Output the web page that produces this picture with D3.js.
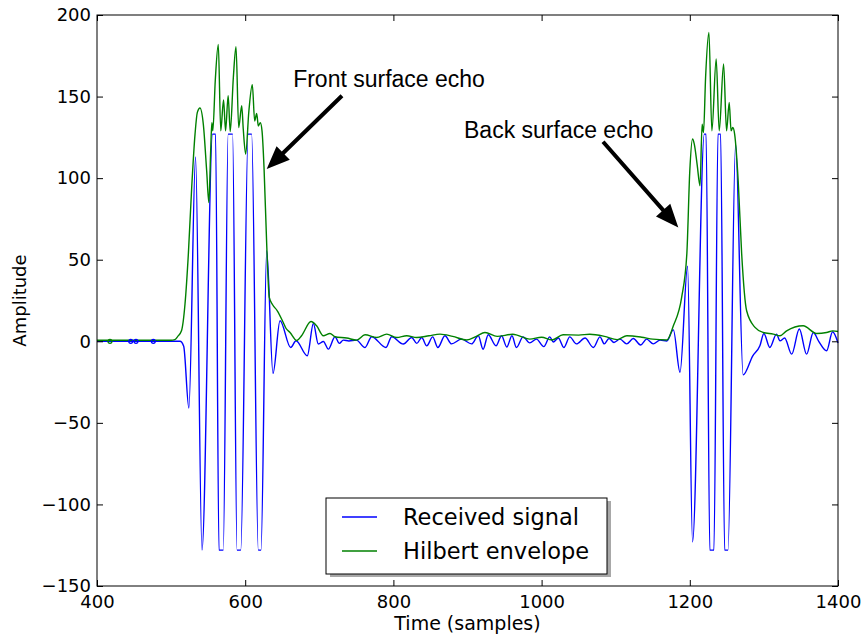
<!DOCTYPE html>
<html>
<head>
<meta charset="utf-8">
<script src="https://cdn.jsdelivr.net/npm/d3@7"></script>
<style>
body { margin: 0; background: #fff; }
.tick text { font-family: "DejaVu Sans"; font-size: 18px; fill: #000; }
.tick line { stroke: #000; stroke-width: 1; }
</style>
</head>
<body>
<svg id="chart" width="865" height="640"></svg>
<script>
// 샘플 위치와 진폭
var sigT = [400,420,440,460,480,500,512,517,524,533,541.7,556,560,564.6,570.4,577,583,589,594,604,608.7,617.7,621.3,629,637.5,647,
  661.4,668.6,683.8,692,698.7,705.5,712.2,721.2,727,732.4,740,750,761.7,770.7,790,797.7,813.4,824.7,831.5,838.2,845,853,860,869.6,
  878.5,891.9,905.5,914.6,921,928,938.5,946,953,960,966,975,984,993,1003,1011,1015.8,1022.6,1030,1038,1047,1058.6,1069.8,1078.8,
  1084.6,1091,1097.7,1105.8,1114.8,1123.8,1133.6,1141.7,1150.7,1159.8,1169,1177.8,1186.8,1197,1203.7,1219.6,1222,1227,1232.6,
  1238,1241.6,1247,1251.5,1261.8,1272,1285,1294.6,1300,1308,1317,1321.7,1328,1337.5,1347.8,1357.6,1366.7,1374,1384.6,1392.7,1400];
var sigA = [0,0,0,0,0,0,0,-3,-41,113,-128,127,127,-128,-128,127,127,-128,-128,127,127,-128,-128,55.5,-19.7,12.6,
  -3.8,0.3,-8.9,10.9,-1.7,-0.1,-4.8,2.8,-1.3,0.7,0.2,0.7,-3.8,2.8,-3.8,2.8,-1.7,2.3,-1.3,2.3,-2.8,2.7,-3.8,3.4,
  -1.6,1.3,-1.6,3.4,-4.9,4,-2.8,3.4,-3.5,3.4,-3.8,2.7,-1,1.3,-3.3,2.7,-0.4,2,-3.8,2.7,-1.6,2,-3.8,2.7,
  -1.6,1.7,-0.7,1.3,-1.6,1.7,-2.3,1.3,-1.6,0.7,0.2,7,-19,46,-123,127,127,-128,-128,
  127,127,-128,-128,121,-20.6,-8.9,-2.8,4.8,-3.8,4.4,0.3,2,-7.9,7.5,-7.9,5.4,0,-5.8,5.8,-1];

var envT = [400,450,500,505,509,514,518.8,523.3,527.8,532.3,535.4,539,543.5,548,551,553.4,555,556.3,559.6,563.7,567,570.8,573.5,
  577,579.8,584,587.6,591.2,595.3,597.4,600.6,605,609.6,612.8,615.5,617.7,620.4,622.7,625.4,629,632.5,637,643.3,651.4,655,660.5,
  669.5,676,688.8,696.4,705.4,714.4,721,737,750.4,761.7,777.4,791,804.5,818,831.5,848,863,880,899,912,923.6,940,961,984,1000,
  1014,1029,1050,1065,1085,1102,1115,1135,1150,1169,1177.8,1189,1196,1200,1203.7,1206,1210,1213.8,1216.6,1218.5,1221.3,1225.8,
  1229.8,1235.6,1239.7,1245.6,1249.6,1253.2,1255.7,1258,1260.5,1265.3,1270,1276.7,1288,1299,1312.7,1321.7,1330.7,1353,1371,
  1384.6,1393,1400];
var envA = [0.6,0.6,0.6,1,3,6.4,23,53.6,94.3,127,140.3,143,133,104.5,85,116.8,134,129,159.7,182,129,148,129,
  150.5,128.5,161.7,180.6,131,144.4,130,114.8,141.3,157.3,135,139.7,132,134,129,106.6,59.6,26.9,22.4,18.7,11.5,8,5.4,
  0.5,3.4,12.1,9.5,3.4,4.8,2.8,2,0.7,4,2.3,4.4,2.3,3.4,2.3,3.4,4.4,3,0.8,3,5.4,3,4.3,1.3,2.5,
  0.8,4,3.8,4.3,3,1,3.4,2.5,1.3,0.8,9.5,26.9,53.6,104.5,124,121,108,95.3,133,128,161.7,189.3,
  129,173,129,170,129,146.4,129,131,127,98.4,53.6,18.7,8.5,5.4,4.4,3.4,6.4,9.5,4.8,
  5.4,6.4,6];

var markT = [417.5, 445.5, 452.6, 476];

var xTicks = [400, 600, 800, 1000, 1200, 1400];
var yTicks = [-150, -100, -50, 0, 50, 100, 150, 200];

var seriesNames = ["Received signal", "Hilbert envelope"];
var notes = [
  {text: "Front surface echo", tx: 664.7, ty: 155.6, fromX: 730.6, fromY: 150.5, toX: 629, toY: 105.6},
  {text: "Back surface echo", tx: 895.3, ty: 124.7, fromX: 1082.9, fromY: 122.3, toX: 1184.5, toY: 69.8}
];

window.addEventListener("load", function(){
var mLeft = 97, mRight = 838, mTop = 15, mBottom = 586;
var svg = d3.select("#chart");
svg.append("rect").attr("width", 865).attr("height", 640).attr("fill", "#fff");

var x = d3.scaleLinear().domain([400, 1400]).range([mLeft, mRight]);
var y = d3.scaleLinear().domain([-150, 200]).range([mBottom, mTop]);

// 선 그리기
var line = d3.line()
  .x(function(d){ return x(d[0]); })
  .y(function(d){ return y(d[1]); })
  .curve(d3.curveMonotoneX);

var plot = svg.append("g");
plot.append("path")
  .attr("d", line(d3.zip(sigT, sigA)))
  .attr("fill", "none").attr("stroke", "#0000ff").attr("stroke-width", 1.4);
plot.append("path")
  .attr("d", line(d3.zip(envT, envA)))
  .attr("fill", "none").attr("stroke", "#008000").attr("stroke-width", 1.4);

plot.selectAll("circle").data(markT).enter().append("circle")
  .attr("cx", function(d){ return x(d); })
  .attr("cy", y(0))
  .attr("r", 2)
  .attr("fill", "none")
  .attr("stroke", function(d, i){ return i == 0 ? "#008000" : "#0000ff"; })
  .attr("stroke-width", 1.2);

// 눈금 (안쪽)
svg.append("g").attr("transform", "translate(0," + mBottom + ")")
  .call(d3.axisBottom(x).tickValues(xTicks).tickSizeInner(-6).tickSizeOuter(0).tickPadding(9).tickFormat(d3.format("d")));
svg.append("g").attr("transform", "translate(0," + mTop + ")")
  .call(d3.axisTop(x).tickValues(xTicks).tickSizeInner(-6).tickSizeOuter(0).tickFormat(""));
svg.append("g").attr("transform", "translate(" + mLeft + ",0)")
  .call(d3.axisLeft(y).tickValues(yTicks).tickSizeInner(-6).tickSizeOuter(0).tickPadding(6).tickFormat(d3.format("d")));
svg.append("g").attr("transform", "translate(" + mRight + ",0)")
  .call(d3.axisRight(y).tickValues(yTicks).tickSizeInner(-6).tickSizeOuter(0).tickFormat(""));
svg.selectAll(".domain").remove();

svg.append("rect")
  .attr("x", mLeft).attr("y", mTop)
  .attr("width", mRight - mLeft).attr("height", mBottom - mTop)
  .attr("fill", "none").attr("stroke", "#000").attr("stroke-width", 1);

// 축 제목
svg.append("text")
  .attr("x", (mLeft + mRight) / 2).attr("y", 630)
  .attr("text-anchor", "middle")
  .style("font-family", "DejaVu Sans").style("font-size", "19px")
  .text("Time (samples)");
svg.append("text")
  .attr("transform", "translate(26," + (mTop + mBottom) / 2 + ") rotate(-90)")
  .attr("text-anchor", "middle")
  .style("font-family", "DejaVu Sans").style("font-size", "18px")
  .text("Amplitude");

// 주석 화살표
function arrowPoly(x1, y1, x2, y2){
  var dx = x2 - x1, dy = y2 - y1;
  var len = Math.sqrt(dx*dx + dy*dy);
  var ux = dx/len, uy = dy/len, nx = -uy, ny = ux;
  var hl = 23, hw = 9.5, sw = 2;
  var bx = x2 - ux*hl, by = y2 - uy*hl;
  return [
    [x1 + nx*sw, y1 + ny*sw], [bx + nx*sw, by + ny*sw], [bx + nx*hw, by + ny*hw],
    [x2, y2],
    [bx - nx*hw, by - ny*hw], [bx - nx*sw, by - ny*sw], [x1 - nx*sw, y1 - ny*sw]
  ];
}

notes.forEach(function(n){
  svg.append("text")
    .attr("x", x(n.tx)).attr("y", y(n.ty))
    .style("font-family", "Liberation Sans").style("font-size", "23px")
    .text(n.text);
  svg.append("polygon")
    .attr("points", arrowPoly(x(n.fromX), y(n.fromY), x(n.toX), y(n.toY)).join(" "))
    .attr("fill", "#000");
});

// 범례
var lg = svg.append("g").attr("transform", "translate(326,498)");
lg.append("rect").attr("x", 4).attr("y", 3).attr("width", 281).attr("height", 76).attr("fill", "#a8a8a8");
lg.append("rect").attr("width", 281).attr("height", 76).attr("fill", "#fff").attr("stroke", "#000").attr("stroke-width", 1);
var colors = ["#0000ff", "#008000"];
seriesNames.forEach(function(name, i){
  lg.append("line").attr("x1", 16).attr("x2", 51).attr("y1", 19 + i*34).attr("y2", 19 + i*34)
    .attr("stroke", colors[i]).attr("stroke-width", 1.4);
  lg.append("text").attr("x", 77).attr("y", 27 + i*34)
    .style("font-family", "DejaVu Sans").style("font-size", "22.5px")
    .text(name);
});
});
</script>
</body>
</html>
